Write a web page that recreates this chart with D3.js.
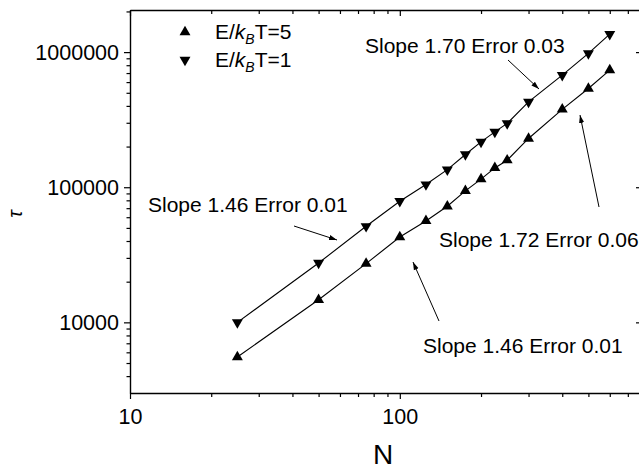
<!DOCTYPE html>
<html>
<head>
<meta charset="utf-8">
<script src="https://cdn.jsdelivr.net/npm/d3@7"></script>
<style>
  body { margin: 0; background: #fff; }
  svg { font-family: "Liberation Sans", Arial, sans-serif; }
</style>
</head>
<body>
<script>
// data
const sizes = [25, 50, 75, 100, 125, 150, 175, 200, 225, 250, 300, 400, 500, 600];
const tauE1 = [10000, 27500, 51400, 78800, 104700, 135000, 174600, 216700, 257000, 296600, 428000, 676000, 978000, 1360000];
const tauE5 = [5540, 14700, 27200, 42800, 56300, 72300, 94000, 114700, 139000, 158500, 229600, 376500, 538000, 736000];
const xMajor = [10, 100];
const xMinor = [20, 30, 40, 50, 60, 70, 80, 90, 200, 300, 400, 500, 600, 700];
const yMajor = [10000, 100000, 1000000];
const yMinor = [4000, 5000, 6000, 7000, 8000, 9000, 20000, 30000, 40000, 50000, 60000, 70000, 80000, 90000,
  200000, 300000, 400000, 500000, 600000, 700000, 800000, 900000, 2000000];
const legendLabels = ["5", "1"];
const notes = [
  { text: "Slope 1.70 Error 0.03", x: 365, y: 53, from: [508, 60], to: [539, 89] },
  { text: "Slope 1.46 Error 0.01", x: 148, y: 212, from: [294, 226], to: [337, 240] },
  { text: "Slope 1.72 Error 0.06", x: 439, y: 247, from: [599, 207], to: [580, 115] },
  { text: "Slope 1.46 Error 0.01", x: 423, y: 353, from: [439, 321], to: [413, 262] }
];

const w = 639, h = 473;
const plotL = 130, plotR = 642, plotT = 10, plotB = 393;
const fs = 21;

const svg = d3.select("body").append("svg").attr("width", w).attr("height", h);

const x = d3.scaleLog().domain([10, 790]).range([plotL, plotR]);
const y = d3.scaleLog().domain([3000, 2.05e6]).range([plotB, plotT]);

svg.append("defs").append("marker")
  .attr("id", "head")
  .attr("viewBox", "0 -5 10 10")
  .attr("refX", 10)
  .attr("refY", 0)
  .attr("markerWidth", 8)
  .attr("markerHeight", 8)
  .attr("markerUnits", "userSpaceOnUse")
  .attr("orient", "auto")
  .append("path")
  .attr("d", "M0,-3.2L10,0L0,3.2Z")
  .attr("fill", "black");

// axes: major + minor ticks, mirrored on top / right
function styleAxis(g) {
  g.selectAll("path.domain").attr("stroke-width", 1.4);
  g.selectAll(".tick line").attr("stroke-width", 1.2);
  g.selectAll("text").attr("font-size", 21.5).attr("fill", "black");
}

const gx = svg.append("g").attr("transform", `translate(0,${plotB})`);
gx.call(d3.axisBottom(x).tickValues(xMajor).tickFormat(d3.format("d")).tickSizeInner(6).tickSizeOuter(0).tickPadding(10));
gx.append("g").call(d3.axisBottom(x).tickValues(xMinor).tickFormat("").tickSizeInner(4).tickSizeOuter(0))
  .select("path.domain").remove();
styleAxis(gx);

const gt = svg.append("g").attr("transform", `translate(0,${plotT})`);
gt.call(d3.axisBottom(x).tickValues(xMajor).tickFormat("").tickSizeInner(6).tickSizeOuter(0));
gt.append("g").call(d3.axisBottom(x).tickValues(xMinor).tickFormat("").tickSizeInner(4).tickSizeOuter(0))
  .select("path.domain").remove();
styleAxis(gt);

const gy = svg.append("g").attr("transform", `translate(${plotL},0)`);
gy.call(d3.axisLeft(y).tickValues(yMajor).tickFormat(d3.format("d")).tickSizeInner(6).tickSizeOuter(0).tickPadding(5));
gy.append("g").call(d3.axisLeft(y).tickValues(yMinor).tickFormat("").tickSizeInner(3.5).tickSizeOuter(0))
  .select("path.domain").remove();
styleAxis(gy);

const gr = svg.append("g").attr("transform", `translate(${plotR},0)`);
gr.call(d3.axisLeft(y).tickValues(yMajor).tickFormat("").tickSizeInner(6).tickSizeOuter(0));
gr.append("g").call(d3.axisLeft(y).tickValues(yMinor).tickFormat("").tickSizeInner(3).tickSizeOuter(0))
  .select("path.domain").remove();
styleAxis(gr);

// axis titles
svg.append("text")
  .attr("x", 383).attr("y", 464)
  .attr("text-anchor", "middle")
  .attr("font-size", 28)
  .text("N");

svg.append("text")
  .attr("transform", "translate(22,214) rotate(-90)")
  .attr("text-anchor", "middle")
  .attr("font-size", 20)
  .attr("font-style", "italic")
  .text("τ");

// series
const line = d3.line().x(d => x(d[0])).y(d => y(d[1]));
const triUp = d3.symbol().type(d3.symbolTriangle).size(52);

function drawSeries(values, rot) {
  const pts = sizes.map((n, i) => [n, values[i]]);
  svg.append("path")
    .attr("d", line(pts))
    .attr("fill", "none")
    .attr("stroke", "black")
    .attr("stroke-width", 1.1);
  svg.append("g").selectAll("path")
    .data(pts)
    .join("path")
    .attr("d", triUp)
    .attr("transform", d => `translate(${x(d[0])},${y(d[1])}) rotate(${rot})`)
    .attr("fill", "black");
}

drawSeries(tauE1, 180);
drawSeries(tauE5, 0);

// legend
legendLabels.forEach((lab, i) => {
  const ly = 32 + i * 28;
  svg.append("path")
    .attr("d", triUp)
    .attr("transform", `translate(185,${ly}) rotate(${i === 0 ? 0 : 180})`)
    .attr("fill", "black");
  const t = svg.append("text").attr("x", 215).attr("y", ly + 7).attr("font-size", fs);
  t.append("tspan").text("E/");
  t.append("tspan").attr("font-style", "italic").text("k");
  t.append("tspan").attr("font-style", "italic").attr("font-size", 14).attr("dy", 5).text("B");
  t.append("tspan").attr("dy", -5).text("T=" + lab);
});

// slope notes with arrows
notes.forEach(n => {
  svg.append("text")
    .attr("x", n.x).attr("y", n.y)
    .attr("font-size", fs)
    .text(n.text);
  svg.append("line")
    .attr("x1", n.from[0]).attr("y1", n.from[1])
    .attr("x2", n.to[0]).attr("y2", n.to[1])
    .attr("stroke", "black")
    .attr("stroke-width", 1)
    .attr("marker-end", "url(#head)");
});
</script>
</body>
</html>
